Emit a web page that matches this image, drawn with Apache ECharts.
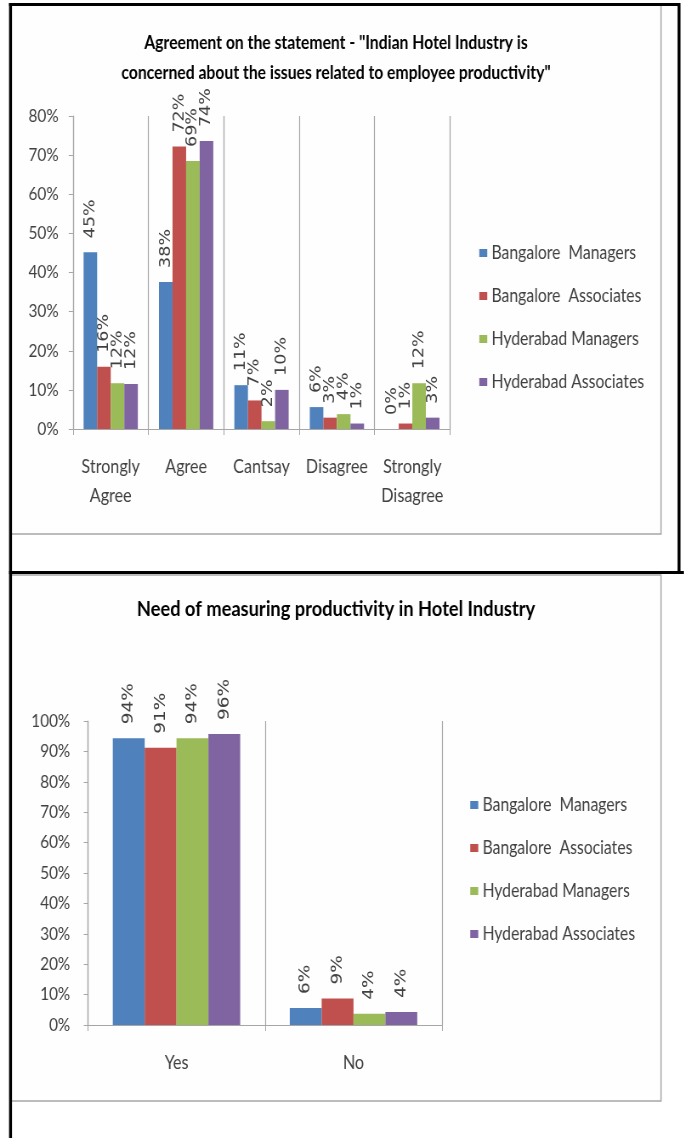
<!DOCTYPE html>
<html>
<head>
<meta charset="utf-8">
<script src="https://cdn.jsdelivr.net/npm/echarts@6/dist/echarts.min.js"></script>
<style>
  html, body { margin: 0; padding: 0; background: #ffffff; overflow: hidden; }
  #wrap { width: 684px; height: 1138px; overflow: hidden; }
  /* the source picture is squeezed sideways, so the chart is drawn wider and squeezed back */
  #chart { width: 805px; height: 1138px; transform: scaleX(0.85); transform-origin: 0 0; }
</style>
</head>
<body>
<div id="wrap"><div id="chart"></div></div>
<script>
// groups shown in both charts
const seriesNames = ['Bangalore  Managers', 'Bangalore  Associates', 'Hyderabad Managers', 'Hyderabad Associates']
const colors = ['#4F81BD', '#C0504D', '#9BBB59', '#8064A2']

// chart 1 - agreement
const agreeCategories = ['Strongly\nAgree', 'Agree', 'Cantsay', 'Disagree', 'Strongly\nDisagree']
const bangaloreManagers1 = [45.2, 37.6, 11.2, 5.6, 0]
const bangaloreAssociates1 = [15.9, 72.2, 7.3, 2.9, 1.4]
const hyderabadManagers1 = [11.7, 68.5, 2.0, 3.8, 11.7]
const hyderabadAssociates1 = [11.5, 73.6, 10.0, 1.4, 2.9]

// chart 2 - need of measuring
const needCategories = ['Yes', 'No']
const bangaloreManagers2 = [94.3, 5.6]
const bangaloreAssociates2 = [91.2, 8.7]
const hyderabadManagers2 = [94.3, 3.7]
const hyderabadAssociates2 = [95.7, 4.3]

const title1 = 'Agreement on the statement - "Indian Hotel Industry is\nconcerned about the issues related to employee productivity"'
const title2 = 'Need of measuring productivity in Hotel Industry'

const SX = 0.85            // horizontal squeeze applied by css
const px = (x) => x / SX   // page x -> chart x
const font = 'Lato'
const textColor = '#404040'
const lineColor = '#a6a6a6'

function makeSeries(dataList, axisIndex, labelSize) {
  return dataList.map((d, i) => ({
    name: seriesNames[i],
    type: 'bar',
    xAxisIndex: axisIndex,
    yAxisIndex: axisIndex,
    data: d,
    barGap: '0%',
    barCategoryGap: '28%',
    itemStyle: { color: colors[i] },
    label: {
      show: true,
      position: 'top',
      rotate: 90,
      align: 'left',
      verticalAlign: 'middle',
      distance: 14,
      fontFamily: 'DejaVu Sans',
      fontSize: labelSize,
      color: textColor,
      formatter: (p) => Math.round(p.value) + '%'
    }
  }))
}

function makeXAxis(cats, gridIndex) {
  return {
    type: 'category',
    gridIndex: gridIndex,
    data: cats,
    axisLine: { lineStyle: { color: lineColor } },
    axisTick: { show: true, interval: 0, length: 6, lineStyle: { color: lineColor } },
    splitLine: { show: true, interval: 0, lineStyle: { color: lineColor, width: 1.2 } },
    axisLabel: { interval: 0, margin: 23, fontFamily: font, fontSize: 19, color: textColor, lineHeight: 29 }
  }
}

function makeYAxis(max, gridIndex, margin) {
  return {
    type: 'value',
    gridIndex: gridIndex,
    min: 0,
    max: max,
    interval: 10,
    axisLine: { show: true, lineStyle: { color: lineColor, width: 1.2 } },
    axisTick: { show: true, length: 5, lineStyle: { color: lineColor } },
    splitLine: { show: false },
    axisLabel: { formatter: '{value}%', margin: margin, fontFamily: font, fontSize: 18, color: textColor }
  }
}

function makeLegend(left, top) {
  return {
    orient: 'vertical',
    left: px(left),
    top: top,
    icon: 'rect',
    itemWidth: px(8),
    itemHeight: 8,
    itemGap: 23,
    data: seriesNames,
    textStyle: { fontFamily: font, fontSize: 18.5, color: textColor, lineHeight: 20 }
  }
}

const option = {
  animation: false,
  graphic: [
    // chart frames
    { type: 'rect', z: -10, shape: { x: px(11), y: 5, width: px(650), height: 529 }, style: { fill: '#fefefe', stroke: lineColor, lineWidth: 1.5 } },
    { type: 'rect', z: -10, shape: { x: px(11), y: 575, width: px(650), height: 526 }, style: { fill: '#fefefe', stroke: lineColor, lineWidth: 1.5 } },
    // table lines
    { type: 'line', z: 100, shape: { x1: px(10.5), y1: 3, x2: px(10.5), y2: 1138 }, style: { stroke: '#000', lineWidth: 3.5 } },
    { type: 'line', z: 100, shape: { x1: px(9), y1: 4.5, x2: px(680), y2: 4.5 }, style: { stroke: '#000', lineWidth: 3 } },
    { type: 'line', z: 100, shape: { x1: px(679), y1: 3, x2: px(679), y2: 572 }, style: { stroke: '#000', lineWidth: 3.5 } },
    { type: 'line', z: 100, shape: { x1: px(9), y1: 572.5, x2: px(684), y2: 572.5 }, style: { stroke: '#000', lineWidth: 3 } },
    // titles
    { type: 'text', x: px(336), y: 28, style: { text: title1, align: 'center', fontFamily: font, fontWeight: 'bold', fontSize: 18.5, lineHeight: 30, fill: '#000' } },
    { type: 'text', x: px(336), y: 598, style: { text: title2, align: 'center', fontFamily: font, fontWeight: 'bold', fontSize: 21.5, fill: '#000' } }
  ],
  legend: [makeLegend(475, 238), makeLegend(466, 790)],
  grid: [
    { left: px(73), top: 116, width: px(377), height: 313 },
    { left: px(88), top: 721, width: px(354), height: 304 }
  ],
  xAxis: [makeXAxis(agreeCategories, 0), makeXAxis(needCategories, 1)],
  yAxis: [makeYAxis(80, 0, 17), makeYAxis(100, 1, 21)],
  series: [
    ...makeSeries([bangaloreManagers1, bangaloreAssociates1, hyderabadManagers1, hyderabadAssociates1], 0, 17.5),
    ...makeSeries([bangaloreManagers2, bangaloreAssociates2, hyderabadManagers2, hyderabadAssociates2], 1, 18.5)
  ]
}

const chart = echarts.init(document.getElementById('chart'))
chart.setOption(option)
</script>
</body>
</html>
